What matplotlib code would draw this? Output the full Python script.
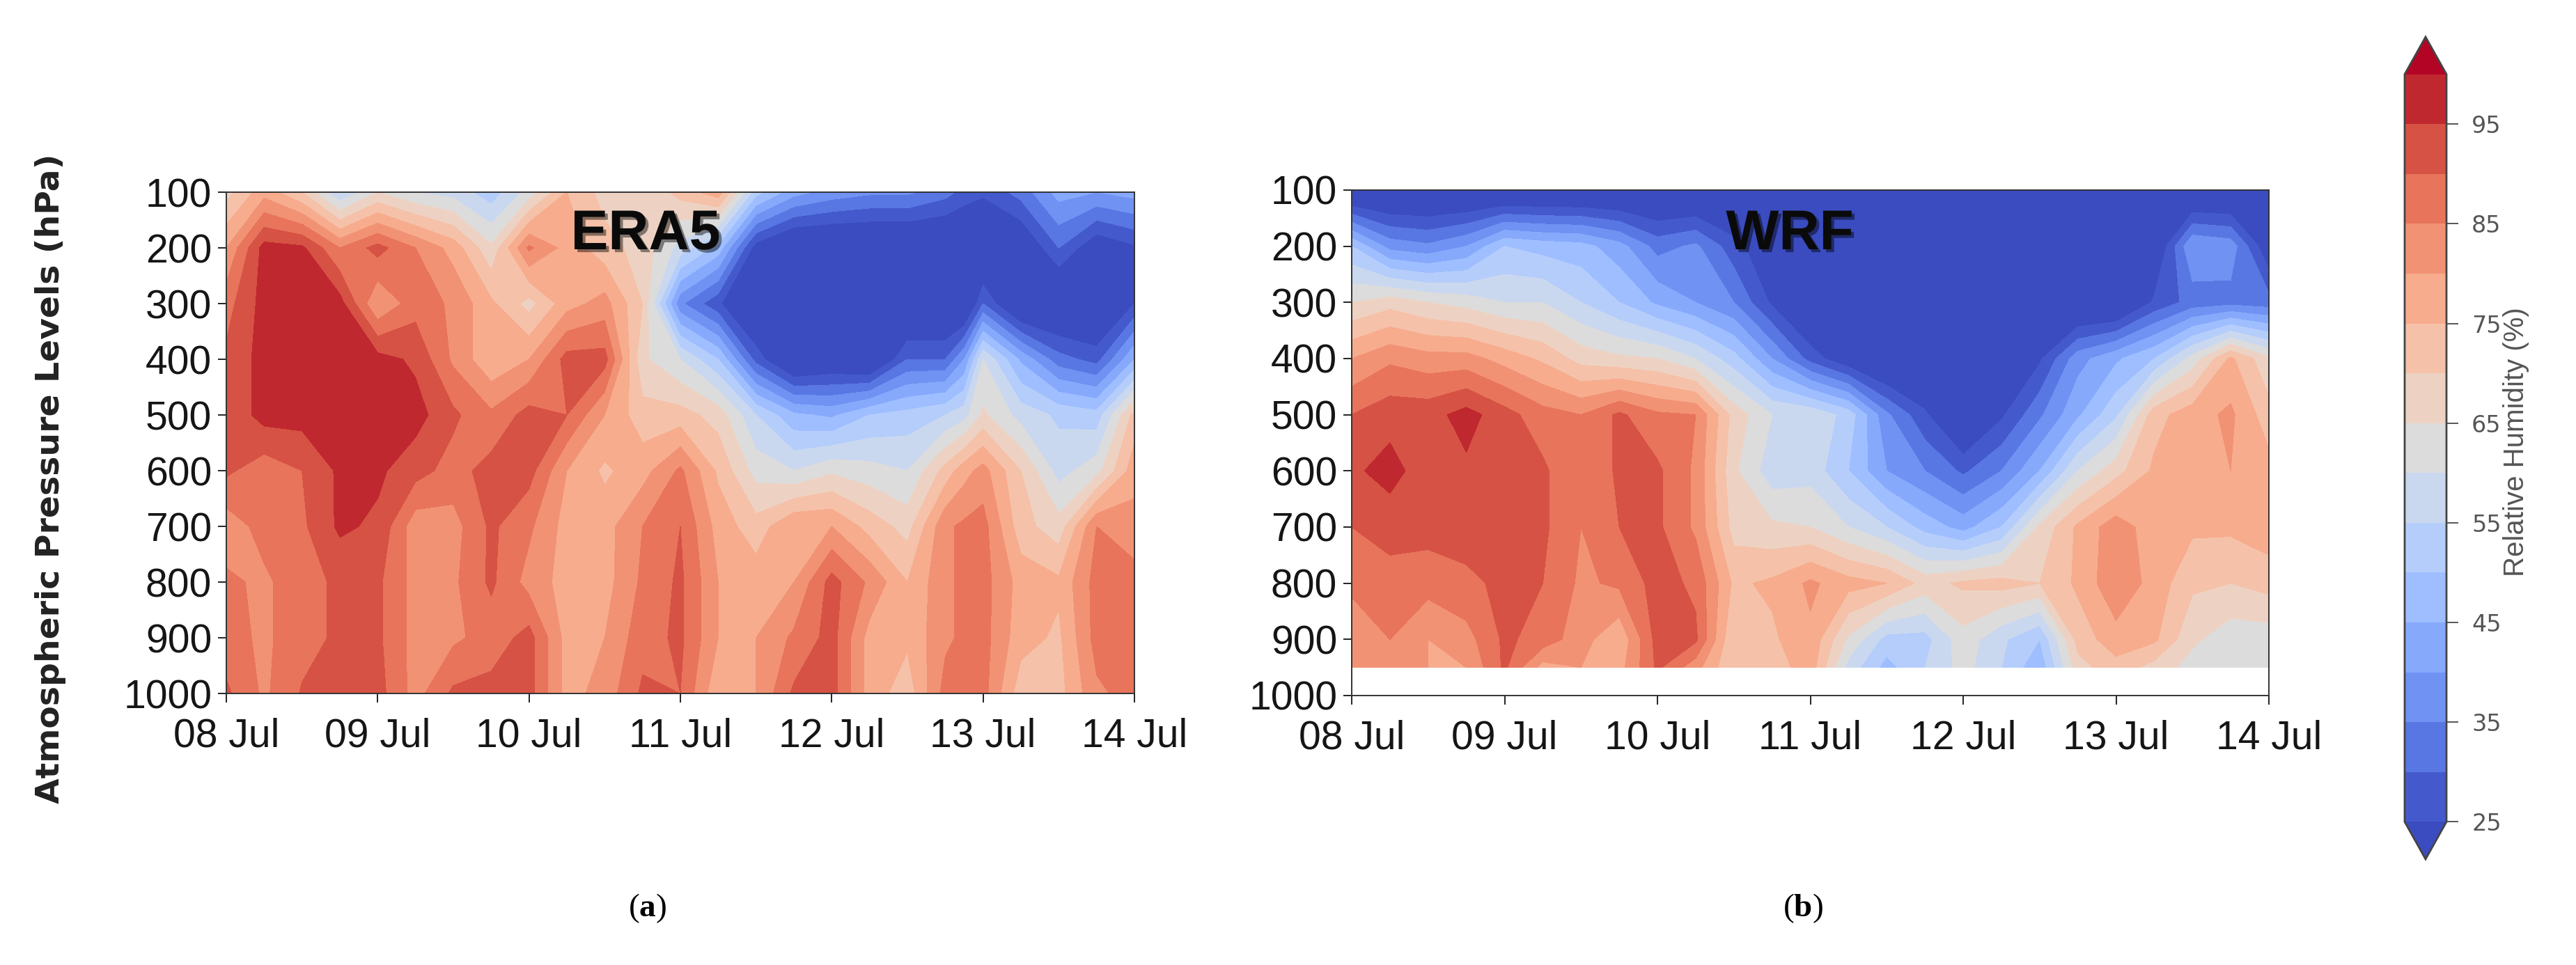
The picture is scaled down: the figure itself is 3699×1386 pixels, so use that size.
from __future__ import annotations

import matplotlib

matplotlib.use("Agg")

import matplotlib.dates as mdates
import matplotlib.patheffects as pe
import matplotlib.pyplot as plt
import numpy as np
import pandas as pd

WIDTH = 3699
HEIGHT = 1386
SANS = ["Liberation Sans", "DejaVu Sans"]

# 6-hourly steps; ERA5 has one extra step at 12 Jul 21 UTC for the sharp edge there
wrf_times = pd.date_range("2021-07-08", "2021-07-14", freq="6h")
era5_times = wrf_times.append(pd.DatetimeIndex(["2021-07-12 21:00"])).sort_values()
tick_days = pd.date_range("2021-07-08", "2021-07-14", freq="1D")
era5_levels = [100, 200, 300, 400, 500, 600, 700, 800, 900, 1000]
wrf_levels = [100, 200, 300, 400, 500, 600, 700, 800, 900, 950]
y_ticks = [100, 200, 300, 400, 500, 600, 700, 800, 900, 1000]
rh_levels = [25, 30, 35, 40, 45, 50, 55, 60, 65, 70, 75, 80, 85, 90, 95, 100]
rh_ticks = [25, 35, 45, 55, 65, 75, 85, 95]

era5_100 = [68, 78, 70, 55, 65, 60, 58, 52, 62, 75, 68, 65, 72, 78, 52, 42, 38, 36, 36, 32, 28, 26, 32, 42, 40, 42]
era5_200 = [80, 97, 96, 85, 92, 85, 78, 66, 86, 78, 72, 68, 58, 48, 22, 15, 15, 15, 15, 15, 15, 15, 18, 30, 20, 24]
era5_300 = [88, 97, 97, 97, 80, 88, 84, 76, 68, 78, 82, 70, 36, 26, 15, 15, 15, 15, 15, 15, 15, 30, 15, 15, 15, 25]
era5_400 = [91, 97, 97, 97, 97, 94, 84, 76, 80, 92, 92, 66, 60, 50, 28, 15, 18, 15, 30, 30, 40, 60, 44, 32, 28, 45]
era5_500 = [91, 97, 97, 97, 97, 97, 91, 86, 92, 90, 80, 72, 72, 68, 55, 46, 44, 50, 52, 55, 58, 66, 58, 54, 52, 72]
era5_600 = [91, 87, 90, 96, 96, 92, 88, 92, 92, 80, 74, 78, 86, 74, 63, 60, 64, 62, 60, 72, 78, 82, 70, 58, 63, 78]
era5_700 = [82, 87, 89, 96, 94, 82, 83, 91, 86, 78, 78, 85, 90, 78, 72, 80, 80, 73, 68, 84, 86, 87, 72, 67, 85, 82]
era5_800 = [86, 84, 88, 91, 91, 83, 84, 91, 83, 78, 78, 86, 91, 80, 78, 80, 92, 84, 75, 84, 86, 87, 78, 76, 87, 87]
era5_900 = [87, 84, 88, 91, 91, 83, 84, 87, 92, 78, 80, 88, 91, 80, 80, 86, 92, 78, 76, 84, 86, 87, 77, 74, 87, 86]
era5_1000 = [91, 84, 90.5, 92, 92, 83, 91, 92, 92, 78, 82, 91, 90, 76, 80, 91, 92, 78, 72, 87, 87, 87, 72, 73, 84, 87]

wrf_100 = [15, 15, 15, 15, 15, 15, 15, 15, 15, 15, 15, 15, 15, 15, 15, 15, 15, 15, 15, 15, 15, 15, 15, 15, 15]
wrf_200 = [50, 38, 36, 40, 50, 48, 47, 42, 33, 36, 27, 20, 15, 15, 15, 15, 15, 15, 15, 15, 15, 18, 40, 38, 20]
wrf_300 = [65, 68, 65, 63, 60, 60, 55, 50, 44, 40, 35, 24, 15, 15, 15, 15, 15, 15, 15, 15, 15, 26, 32, 33, 32]
wrf_400 = [80, 84, 82, 82, 78, 74, 68, 66, 65, 60, 52, 40, 28, 20, 15, 15, 15, 15, 24, 38, 44, 50, 62, 76, 66]
wrf_500 = [90, 93, 93, 97, 92, 87, 85, 91, 86, 85, 68, 60, 59, 53, 36, 26, 15, 24, 34, 44, 54, 73, 78, 81, 72]
wrf_600 = [94, 97, 92, 94, 92, 91, 85, 91, 91, 84, 66, 57, 58, 50, 40, 35, 29, 35, 45, 60, 68, 76, 78, 80, 77]
wrf_700 = [90, 92, 92, 92, 92, 91, 85, 90, 91, 84, 68, 66, 65, 60, 55, 48, 43, 50, 66, 76, 83, 77, 76, 76, 78]
wrf_800 = [86, 88, 87, 89, 91, 90, 84, 86, 92, 89, 74, 76, 81, 77, 75, 68, 71, 72, 70, 76, 84, 78, 71, 70, 72]
wrf_900 = [82, 85, 80, 83, 91, 88, 82, 76, 92, 91, 70, 74, 79, 64, 53, 53, 63, 56, 50, 72, 78, 76, 66, 62, 62]
wrf_950 = [85, 85, 80, 80, 91, 78, 80, 78, 91, 82, 70, 72, 78, 58, 48, 55, 62, 55, 46, 68, 73, 68, 63, 62, 62]

era5_rh = np.array([era5_100, era5_200, era5_300, era5_400, era5_500,
                    era5_600, era5_700, era5_800, era5_900, era5_1000])
wrf_rh = np.array([wrf_100, wrf_200, wrf_300, wrf_400, wrf_500,
                   wrf_600, wrf_700, wrf_800, wrf_900, wrf_950])


def box(left, top, right, bottom):
    """Axes rectangle from reference pixel edges."""
    return [left / WIDTH, 1 - bottom / HEIGHT, (right - left) / WIDTH, (bottom - top) / HEIGHT]


def draw_panel(ax, times, levels, values):
    filled = ax.contourf(mdates.date2num(times), levels, values, levels=rh_levels,
                         cmap="coolwarm", extend="both")
    ax.set_ylim(1000, 100)
    ax.set_xlim(mdates.date2num(tick_days[0]), mdates.date2num(tick_days[-1]))
    ax.set_yticks(y_ticks)
    ax.set_xticks(mdates.date2num(tick_days))
    ax.xaxis.set_major_formatter(mdates.DateFormatter("%d %b"))
    ax.tick_params(length=9, width=1.4, labelsize=41, color="#222222", labelcolor="#151515")
    ax.tick_params(axis="x", pad=16)
    ax.tick_params(axis="y", pad=6)
    for label in ax.get_xticklabels() + ax.get_yticklabels():
        label.set_family(SANS)
    for spine in ax.spines.values():
        spine.set_linewidth(1.4)
        spine.set_color("#333333")
    return filled


plt.rcParams["mathtext.fontset"] = "custom"
plt.rcParams["mathtext.rm"] = "Liberation Serif"
plt.rcParams["mathtext.bf"] = "Liberation Serif:bold"
plt.rcParams["font.family"] = ["Liberation Serif", "DejaVu Sans"]

fig = plt.figure(figsize=(WIDTH / 100, HEIGHT / 100), dpi=100)
ax_a = fig.add_axes(box(325, 276, 1629, 996))
ax_b = fig.add_axes(box(1941, 273, 3258, 999))
cax = fig.add_axes(box(3453, 53, 3513, 1234))

filled = draw_panel(ax_a, era5_times, era5_levels, era5_rh)
draw_panel(ax_b, wrf_times, wrf_levels, wrf_rh)

shadow = [pe.withSimplePatchShadow(offset=(3, -3), shadow_rgbFace="black", alpha=0.45)]
fig.text(927 / WIDTH, 1 - 337 / HEIGHT, "ERA5", ha="center", va="center", fontsize=58,
         fontweight="bold", family=SANS, color="#0a0a0a", path_effects=shadow)
fig.text(2570 / WIDTH, 1 - 337 / HEIGHT, "WRF", ha="center", va="center", fontsize=58,
         fontweight="bold", family=SANS, color="#0a0a0a", path_effects=shadow)

fig.text(73 / WIDTH, 1 - 687 / HEIGHT, "Atmospheric Pressure Levels (hPa)", rotation=90,
         ha="center", va="center", fontsize=34, fontweight="bold", family="DejaVu Sans",
         color="#222222")

fig.text(930 / WIDTH, 1 - 1305 / HEIGHT, r"($\mathbf{a}$)", ha="center", va="center", fontsize=34)
fig.text(2589 / WIDTH, 1 - 1305 / HEIGHT, r"($\mathbf{b}$)", ha="center", va="center", fontsize=34)

cbar = fig.colorbar(filled, cax=cax, extend="both", extendfrac=0.05, ticks=rh_ticks)
cbar.outline.set_linewidth(2)
cbar.outline.set_edgecolor("#444444")
cbar.ax.tick_params(length=12, width=1.4, pad=14, labelsize=24, color="#555555", labelcolor="#555555")
for label in cbar.ax.get_yticklabels():
    label.set_family("DejaVu Sans")
fig.text(3613 / WIDTH, 1 - 635 / HEIGHT, "Relative Humidity (%)", rotation=90, ha="center",
         va="center", fontsize=29, family=SANS, color="#555555")

fig.savefig("out.png", dpi=100)
plt.close(fig)
